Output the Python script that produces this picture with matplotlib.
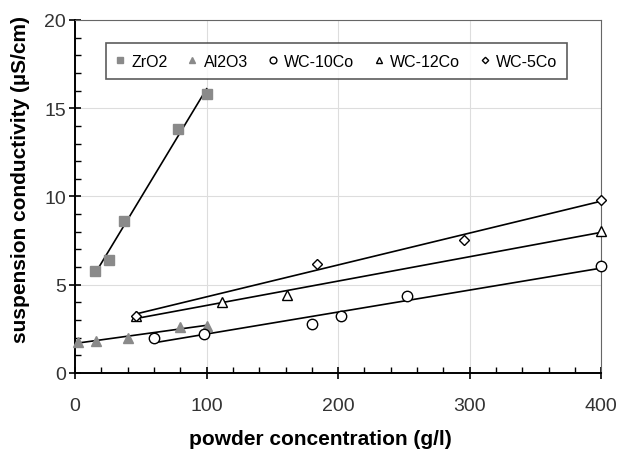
import numpy as np
import matplotlib
matplotlib.use("Agg")
import matplotlib.pyplot as plt
from matplotlib.ticker import MultipleLocator

plt.rcParams['font.family'] = ['Liberation Sans', 'DejaVu Sans']

# ==========================
# Data
# ==========================

zro2_x = [15, 26, 37, 78, 100]
zro2_y = [5.8, 6.4, 8.6, 13.8, 15.8]

al2o3_x = [2, 16, 40, 80, 100]
al2o3_y = [1.75, 1.8, 2.0, 2.6, 2.65]

wc10_x = [60, 98, 180, 202, 252, 400]
wc10_y = [2.0, 2.2, 2.8, 3.2, 4.35, 6.05]

wc12_x = [46, 112, 161, 400]
wc12_y = [3.25, 4.0, 4.4, 8.05]

wc5_x = [46, 184, 296, 400]
wc5_y = [3.2, 6.2, 7.55, 9.8]

series = [
    ("ZrO2", zro2_x, zro2_y, "s", "#8a8a8a", "#8a8a8a"),
    ("Al2O3", al2o3_x, al2o3_y, "^", "#8a8a8a", "#8a8a8a"),
    ("WC-10Co", wc10_x, wc10_y, "o", "white", "black"),
    ("WC-12Co", wc12_x, wc12_y, "^", "white", "black"),
    ("WC-5Co", wc5_x, wc5_y, "D", "white", "black"),
]

# ==========================
# Plot
# ==========================

fig = plt.figure(figsize=(6.21, 4.56), dpi=100)
ax = fig.add_axes([0.121, 0.18, 0.847, 0.774])

for name, xs, ys, mk, fc, ec in series:
    # linear trendline over the data range
    k, b = np.polyfit(xs, ys, 1)
    xl = np.array([min(xs), max(xs)])
    ax.plot(xl, k * xl + b, color="black", lw=1.2, zorder=2)
    ms = 5 if mk == "D" else 7.5
    ax.plot(xs, ys, linestyle="none", marker=mk, markersize=ms,
            markerfacecolor=fc, markeredgecolor=ec, markeredgewidth=1.0,
            label=name, zorder=3, clip_on=False)

ax.set_xlim(0, 400)
ax.set_ylim(0, 20)
ax.xaxis.set_major_locator(MultipleLocator(100))
ax.xaxis.set_minor_locator(MultipleLocator(20))
ax.yaxis.set_major_locator(MultipleLocator(5))
ax.yaxis.set_minor_locator(MultipleLocator(1))
ax.grid(True, which="major", color="#dddddd", lw=0.8)
ax.set_axisbelow(True)

ax.tick_params(which="major", direction="inout", length=9, width=1.2,
               labelsize=14, labelcolor="#333333")
ax.tick_params(which="minor", direction="in", length=4, width=1.0)
ax.tick_params(axis="x", which="major", pad=13)
ax.tick_params(axis="y", which="major", pad=2)

for s in ["left", "bottom"]:
    ax.spines[s].set_linewidth(1.4)
for s in ["top", "right"]:
    ax.spines[s].set_color("#666666")
    ax.spines[s].set_linewidth(0.8)

ax.set_xlabel("powder concentration (g/l)", fontsize=15, fontweight="bold")
ax.set_ylabel("suspension conductivity (µS/cm)", fontsize=15,
              fontweight="bold")
ax.xaxis.set_label_coords(0.466, -0.158)
ax.yaxis.set_label_coords(-0.086, 0.55)

leg = ax.legend(loc="upper center", bbox_to_anchor=(0.497, 0.956), ncol=5,
                fontsize=11.5, frameon=True, fancybox=False, handlelength=0.5,
                handletextpad=0.45, columnspacing=1.3, borderpad=0.65,
                markerscale=0.65)
leg.get_frame().set_edgecolor("#333333")
leg.get_frame().set_linewidth(1.2)

plt.savefig("out.png", dpi=100)
